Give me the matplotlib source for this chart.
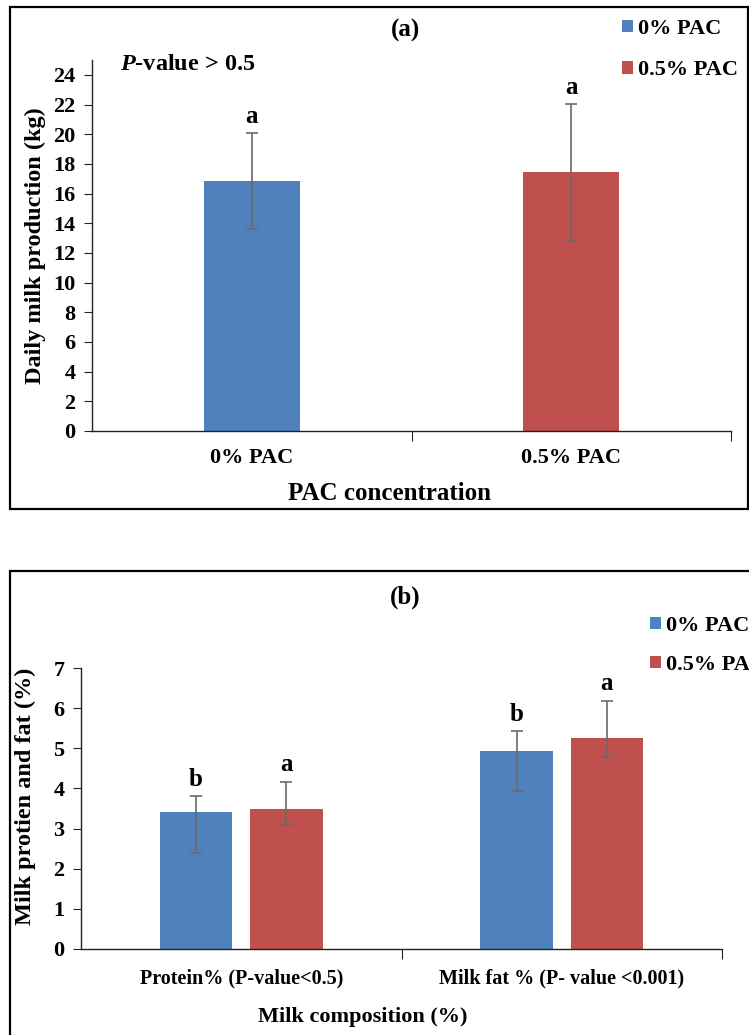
import matplotlib.pyplot as plt
from matplotlib.patches import Rectangle

plt.rcParams["font.family"] = ["Liberation Serif", "DejaVu Serif"]
plt.rcParams["font.weight"] = "bold"
plt.rcParams["mathtext.fontset"] = "custom"
plt.rcParams["mathtext.bfit"] = "Liberation Serif:italic:bold"
plt.rcParams["mathtext.bf"] = "Liberation Serif:bold"

# (a) daily milk production
groups = ["0% PAC", "0.5% PAC"]
milk_mean = [16.85, 17.43]
milk_sd = [3.22, 4.6]
milk_letters = ["a", "a"]

# (b) milk composition
components = ["Protein% (P-value<0.5)", "Milk fat % (P- value <0.001)"]
ctrl_mean = [3.41, 4.93]
ctrl_low = [2.40, 3.93]
ctrl_high = [3.80, 5.42]
pac_mean = [3.50, 5.26]
pac_low = [3.10, 4.78]
pac_high = [4.16, 6.19]
ctrl_letters = ["b", "b"]
pac_letters = ["a", "a"]

BLUE = "#4F81BD"
RED = "#C0504D"
ERR = "#6a6a6a"
W, H = 749, 1035


def px_box(left, top, right, bottom):
    return [left / W, 1 - bottom / H, (right - left) / W, (bottom - top) / H]


def style_axes(ax, n, pad):
    for s in ["top", "right"]:
        ax.spines[s].set_visible(False)
    for s in ["left", "bottom"]:
        ax.spines[s].set_color("#222222")
        ax.spines[s].set_linewidth(1.0)
    ax.set_xlim(-0.5, n - 0.5)
    # boundary ticks between categories (the y axis covers the left end)
    ax.set_xticks([i + 0.5 for i in range(n)])
    ax.set_xticklabels([])
    ax.tick_params(axis="x", which="major", length=7, direction="out", color="#222222")
    ax.tick_params(axis="x", which="minor", length=0, pad=pad, labelsize=16)
    ax.tick_params(axis="y", length=6, direction="out", labelsize=16, pad=6, color="#222222")


fig = plt.figure(figsize=(W / 100, H / 100), dpi=100)

# panel frames
fig.patches.append(Rectangle((10 / W, 1 - 509 / H), 738 / W, 502 / H,
                             transform=fig.transFigure, fill=False,
                             edgecolor="black", linewidth=1.6))
fig.patches.append(Rectangle((9.5 / W, -0.05), 1.0, 1 - 571 / H + 0.05,
                             transform=fig.transFigure, fill=False,
                             edgecolor="black", linewidth=1.6))

# ---- panel (a)
ax1 = fig.add_axes(px_box(92, 60, 731, 431))
x = list(range(len(groups)))
bars1 = ax1.bar(x, milk_mean, width=0.30, color=[BLUE, RED],
                yerr=milk_sd, ecolor=ERR,
                error_kw=dict(elinewidth=1.2, capsize=4, capthick=1.2))
style_axes(ax1, len(groups), pad=12)
ax1.set_xticks(x, minor=True)
ax1.set_xticklabels(groups, minor=True, fontweight="bold")
ax1.set_ylim(0, 25)
ax1.set_yticks(range(0, 25, 2))
ax1.set_ylabel("Daily milk production (kg)", fontsize=17.5, fontweight="bold", labelpad=5)
ax1.set_xlabel("PAC concentration", fontsize=18, fontweight="bold")
ax1.xaxis.set_label_coords(0.465, -0.138)
for xi, m, e, lab in zip(x, milk_mean, milk_sd, milk_letters):
    ax1.annotate(lab, (xi, m + e), xytext=(0, 4), textcoords="offset points",
                 ha="center", va="bottom", fontsize=18, fontweight="bold")
ax1.text(28 / 639, 1 - 5 / 371, r"$\mathbfit{P}$-value > 0.5", transform=ax1.transAxes,
         fontsize=17.5, fontweight="bold", va="center", ha="left")
fig.text(405 / W, 1 - 30 / H, "(a)", fontsize=18, fontweight="bold",
         ha="center", va="center")
fig.legend([bars1[0], bars1[1]], groups, loc="upper left",
           bbox_to_anchor=(622 / W, 1 - 19 / H), frameon=False,
           fontsize=16, handlelength=0.5, handleheight=0.5,
           handletextpad=0.2, labelspacing=0.95, borderpad=0, borderaxespad=0)

# ---- panel (b)
ax2 = fig.add_axes(px_box(81, 668, 722, 949))
xc = list(range(len(components)))
bw = 0.226
off = 0.141
x_ctrl = [i - off for i in xc]
x_pac = [i + off for i in xc]
ctrl_err = [[m - lo for m, lo in zip(ctrl_mean, ctrl_low)],
            [hi - m for m, hi in zip(ctrl_mean, ctrl_high)]]
pac_err = [[m - lo for m, lo in zip(pac_mean, pac_low)],
           [hi - m for m, hi in zip(pac_mean, pac_high)]]
b_ctrl = ax2.bar(x_ctrl, ctrl_mean, width=bw, color=BLUE, yerr=ctrl_err, ecolor=ERR,
                 error_kw=dict(elinewidth=1.2, capsize=4, capthick=1.2))
b_pac = ax2.bar(x_pac, pac_mean, width=bw, color=RED, yerr=pac_err, ecolor=ERR,
                error_kw=dict(elinewidth=1.2, capsize=4, capthick=1.2))
style_axes(ax2, len(components), pad=14)
ax2.set_xticks(xc, minor=True)
ax2.set_xticklabels(components, minor=True, fontweight="bold")
ax2.tick_params(axis="x", which="minor", labelsize=14.5)
ax2.set_ylim(0, 7)
ax2.set_yticks(range(0, 8))
ax2.set_ylabel("Milk protien and fat (%)", fontsize=17.5, fontweight="bold", labelpad=12.5)
ax2.yaxis.label.set_y(0.543)
ax2.set_xlabel("Milk composition (%)", fontsize=16, fontweight="bold")
ax2.xaxis.set_label_coords(0.44, -0.206)
for xs, tops, labs in [(x_ctrl, ctrl_high, ctrl_letters), (x_pac, pac_high, pac_letters)]:
    for xi, t, lab in zip(xs, tops, labs):
        ax2.annotate(lab, (xi, t), xytext=(0, 4), textcoords="offset points",
                     ha="center", va="bottom", fontsize=18, fontweight="bold")
fig.text(405 / W, 1 - 597 / H, "(b)", fontsize=18, fontweight="bold",
         ha="center", va="center")
fig.legend([b_ctrl, b_pac], ["0% PAC", "0.5% PAC"], loc="upper left",
           bbox_to_anchor=(650 / W, 1 - 616 / H), frameon=False,
           fontsize=16, handlelength=0.5, handleheight=0.5,
           handletextpad=0.2, labelspacing=0.85, borderpad=0, borderaxespad=0)

fig.savefig("out.png", dpi=100)
